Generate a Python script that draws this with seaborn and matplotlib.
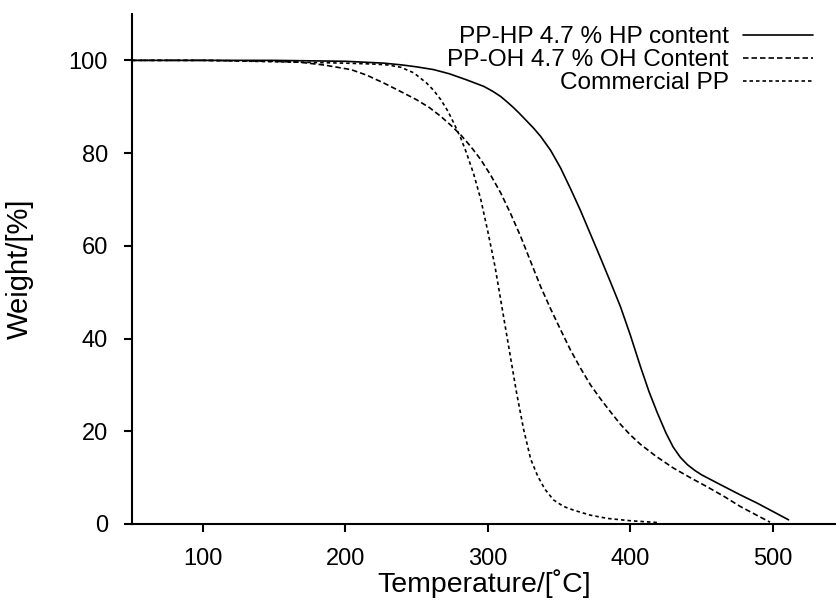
import matplotlib
matplotlib.use("Agg")
import matplotlib.pyplot as plt
import seaborn as sns
import pandas as pd

# ---- data ----
hp_temp = [50, 100, 150, 200, 227, 240, 250, 262, 273, 285, 297, 303, 309, 314, 318, 322, 327, 332, 337,
           344, 351, 358, 365, 372, 379, 386, 393, 400, 407, 413, 419, 425, 430, 435, 440, 445, 450, 455,
           465, 477, 489, 500, 511]
hp_weight = [100, 100, 100, 99.8, 99.4, 99.0, 98.6, 98.0, 97.1, 95.8, 94.4, 93.4, 92.2, 90.9, 89.8, 88.6,
             87.0, 85.4, 83.6, 80.6, 76.8, 72.3, 67.6, 62.5, 57.4, 52.2, 46.9, 40.7, 34.0, 28.6, 23.9,
             19.6, 16.6, 14.4, 12.8, 11.6, 10.6, 9.8, 8.2, 6.3, 4.5, 2.7, 0.9]

oh_temp = [50, 100, 150, 168, 185, 204, 215, 227, 238, 250, 259, 267, 274, 281, 288, 295, 302, 309, 316,
           323, 330, 337, 344, 351, 358, 365, 372, 379, 386, 393, 400, 407, 418, 430, 442, 454, 466, 477,
           488, 498]
oh_weight = [100, 100, 99.8, 99.6, 99.0, 98.0, 96.8, 95.1, 93.4, 91.5, 89.8, 87.9, 86.0, 83.9, 81.4, 78.6,
             75.2, 71.4, 66.9, 62.0, 56.6, 51.2, 46.4, 41.9, 37.5, 33.6, 30.0, 27.0, 24.2, 21.5, 19.2, 17.2,
             14.6, 12.1, 10.0, 8.0, 5.9, 3.8, 2.0, 0.4]

pp_temp = [50, 100, 168, 200, 220, 230, 239, 248, 257, 262, 267, 272, 276, 281, 285, 290, 295, 300, 305,
           310, 315, 320, 325, 330, 335, 340, 346, 353, 360, 372, 384, 400, 420]
pp_weight = [100, 100, 99.6, 99.4, 99.2, 99.0, 98.5, 97.3, 95.1, 93.5, 91.5, 89.0, 86.5, 83.2, 80.0, 75.5,
             70.0, 63.0, 55.5, 46.5, 37.5, 28.5, 20.5, 14.0, 10.3, 7.5, 5.2, 3.8, 3.0, 1.9, 1.2, 0.7, 0.3]

series_labels = ["PP-HP 4.7 % HP content", "PP-OH 4.7 % OH Content", "Commercial PP"]
x_ticks = [100, 200, 300, 400, 500]
y_ticks = [0, 20, 40, 60, 80, 100]

# ---- style ----
sns.set_style("ticks")
plt.rcParams["font.family"] = ["Liberation Sans", "DejaVu Sans"]
plt.rcParams["text.color"] = "black"
plt.rcParams["axes.labelcolor"] = "black"

fig = plt.figure(figsize=(8.37, 6.09), dpi=100)
ax = fig.add_axes([131.7 / 837, 1 - 524 / 609, 1 - 131.7 / 837, (524 - 14) / 609])

styles = ["-", (0, (3.3, 1.8)), (0, (2.1, 1.8))]
data = [(hp_temp, hp_weight), (oh_temp, oh_weight), (pp_temp, pp_weight)]
for (t, w), lab, ls in zip(data, series_labels, styles):
    df = pd.DataFrame({"T": t, "W": w})
    sns.lineplot(data=df, x="T", y="W", ax=ax, color="black", lw=1.2,
                 linestyle=ls, label=lab, sort=False)

ax.set_xlim(50, 545)
ax.set_ylim(0, 110)
ax.set_xticks(x_ticks)
ax.set_yticks(y_ticks)
for s in ["top", "right"]:
    ax.spines[s].set_visible(False)
for s in ["left", "bottom"]:
    ax.spines[s].set_linewidth(1.5)
    ax.spines[s].set_color("black")
ax.tick_params(direction="out", length=6, width=1.5, pad=11, labelsize=17, colors="black")

ax.set_xlabel("Temperature/[˚C]", fontsize=20.5, color="black")
ax.set_ylabel("Weight/[%]", fontsize=21, color="black")
ax.xaxis.set_label_coords(0.5, -0.088)
ax.yaxis.set_label_coords(-0.1385, 0.5)

handles, labels = ax.get_legend_handles_labels()
leg = ax.legend(handles, labels, loc="upper right",
                bbox_to_anchor=(813 / 837, 1 - 26 / 609), bbox_transform=fig.transFigure,
                frameon=False, markerfirst=False, handlelength=2.85, handletextpad=0.6,
                labelspacing=0.04, borderpad=0, borderaxespad=0, fontsize=17.6)
for txt in leg.get_texts():
    txt.set_color("black")

fig.savefig("out.png", dpi=100)
